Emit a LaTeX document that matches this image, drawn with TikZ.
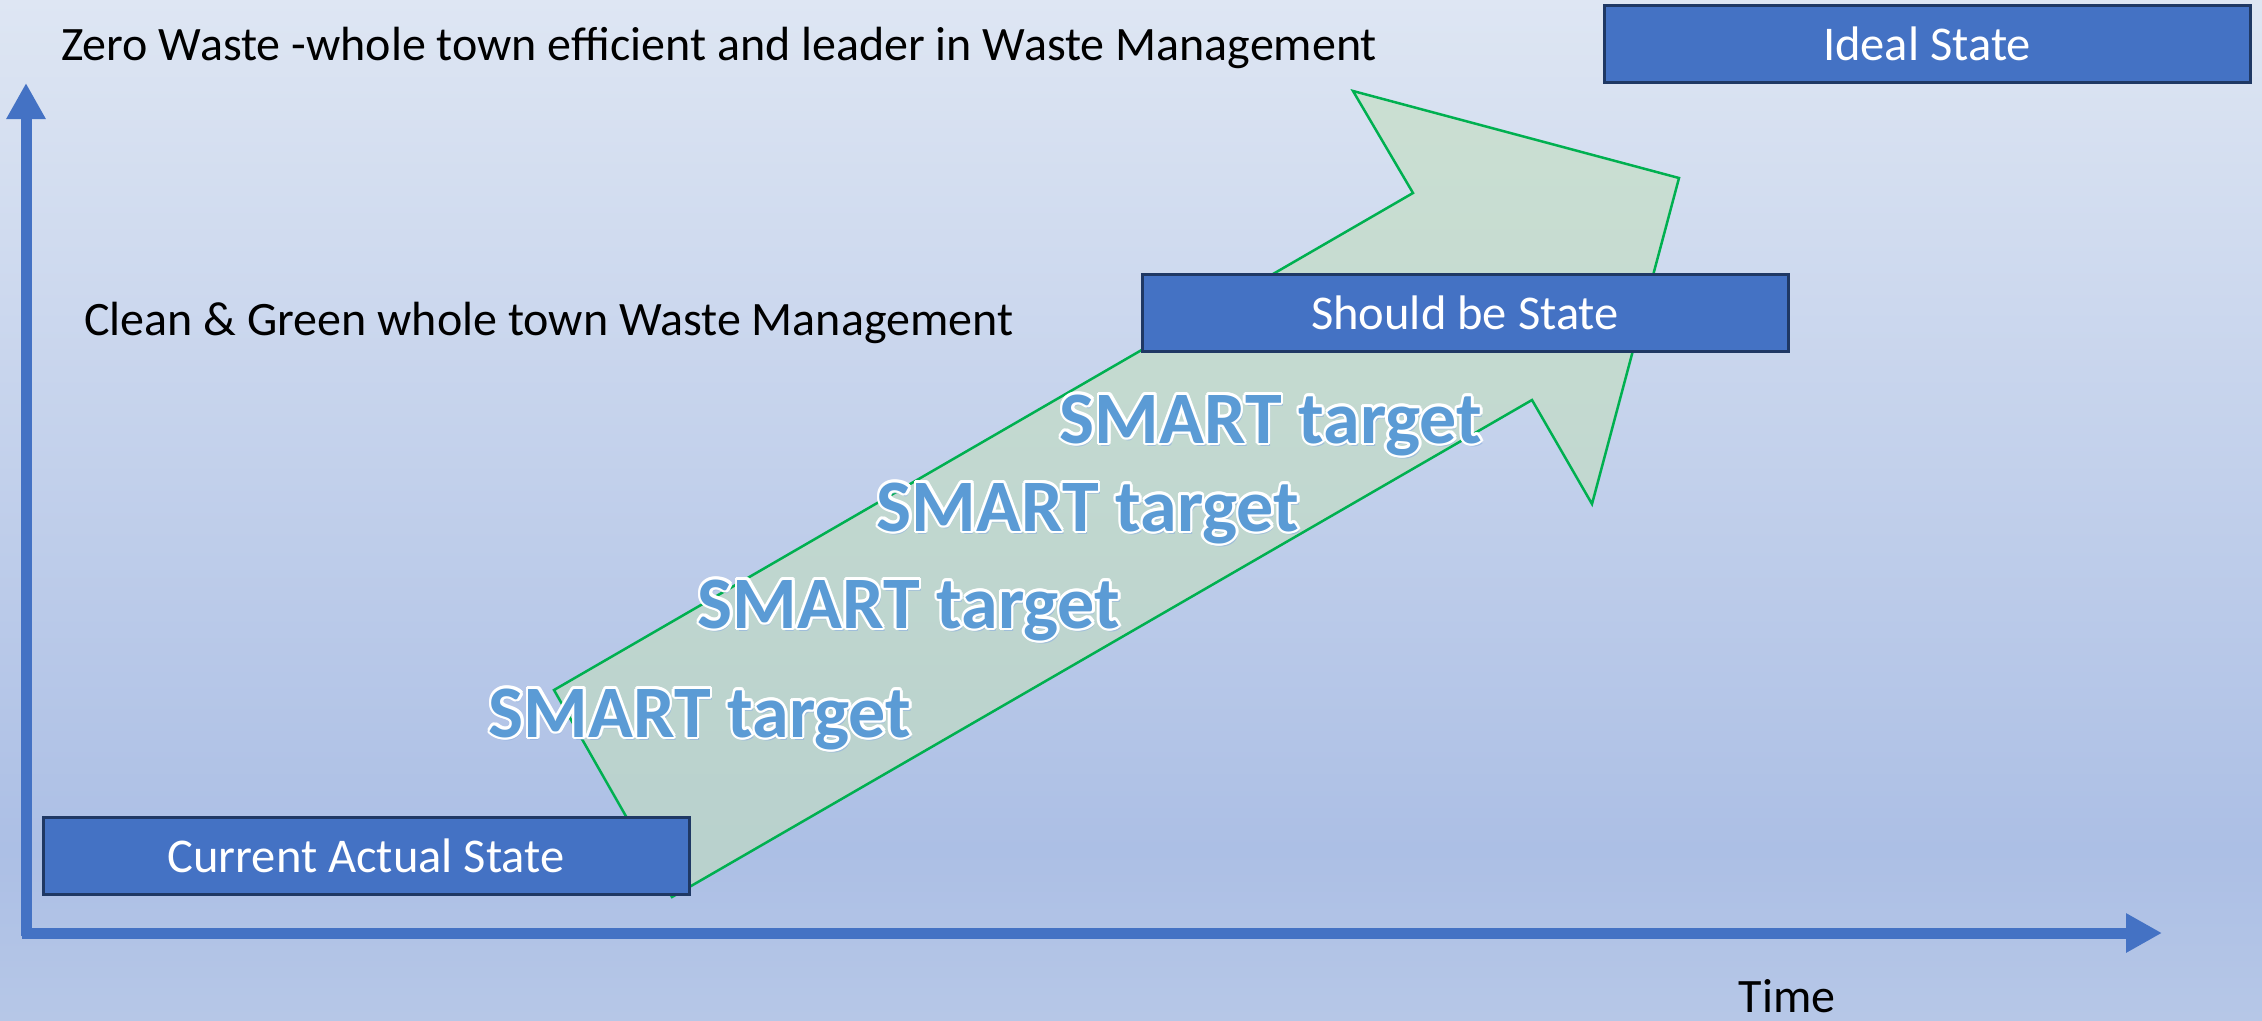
\documentclass[tikz,border=0pt]{standalone}
\usepackage{fontspec}
\setmainfont{Carlito}
\usetikzlibrary{arrows.meta}
\definecolor{bgtop}{RGB}{222,230,243}
\definecolor{bgmid}{RGB}{172,191,229}
\definecolor{bgbot}{RGB}{182,199,231}
\definecolor{boxblue}{RGB}{68,114,196}
\definecolor{boxline}{RGB}{31,56,100}
\definecolor{arrowfill}{RGB}{194,222,190}
\definecolor{arrowline}{RGB}{0,176,80}
\definecolor{smartblue}{RGB}{91,155,213}
\definecolor{glowblue}{RGB}{140,175,225}
\newcommand{\smartlabel}[2]{%
  \node[smart, text=glowblue, opacity=0.6, anchor=base] at ([shift={(2pt,-3pt)}]#1) {SMART target};
  \foreach \a in {0,30,...,330}{\node[smart, text=white, anchor=base] at ([shift={(\a:2.6pt)}]#1) {SMART target};}
  \node[smart, text=smartblue, anchor=base] (#2) at (#1) {SMART target};
}
\begin{document}
\begin{tikzpicture}[x=1pt,y=-1pt,
  statebox/.style={draw=boxline, line width=3pt, fill=boxblue, text=white,
    minimum width=646pt, minimum height=77pt, inner sep=0pt,
    font=\fontsize{48.5}{58}\selectfont},
  plain/.style={inner sep=0pt, text=black, font=\fontsize{48}{58}\selectfont},
  smart/.style={inner sep=0pt, font=\fontsize{74}{89}\selectfont\bfseries},
  axisline/.style={draw=boxblue, line width=11pt, -{Triangle[length=36pt,width=37pt]}}]
\useasboundingbox (0,0) rectangle (2262,1020);
% background
\shade[top color=bgtop, bottom color=bgmid] (0,0) rectangle (2262,850);
\shade[top color=bgmid, bottom color=bgbot] (0,849) rectangle (2262,1020);
% axes
\coordinate (yorig) at (26,936);
\coordinate (ytip) at (26,83);
\coordinate (xorig) at (22,933);
\coordinate (xtip) at (2162,933);
\draw[axisline] (yorig) -- (ytip);
\draw[axisline] (xorig) -- (xtip);
% big arrow
\draw[arrowline, line width=2.5pt, fill=arrowfill, fill opacity=0.6, line join=miter]
  (554,690) -- (1413,193) -- (1353,91) -- (1679,178) -- (1592,504) -- (1532,400) -- (672,897) -- cycle;
% texts
\node[plain, anchor=base west] (zero) at (61,60) {Zero Waste -whole town efficient and leader in Waste Management};
\node[plain, anchor=base west] (clean) at (84,335) {Clean \& Green whole town Waste Management};
\node[plain, anchor=base] (time) at (1787,1012) {Time};
% boxes
\node[statebox] (ideal) at (1927,44) {Ideal State};
\node[statebox] (should) at (1465,313) {Should be State};
\node[statebox] (current) at (366,856) {Current Actual State};
% SMART targets
\coordinate (s1) at (1271,443);
\coordinate (s2) at (1088,531);
\coordinate (s3) at (909,628);
\coordinate (s4) at (700,737);
\smartlabel{s1}{t1}
\smartlabel{s2}{t2}
\smartlabel{s3}{t3}
\smartlabel{s4}{t4}
\end{tikzpicture}
\end{document}
